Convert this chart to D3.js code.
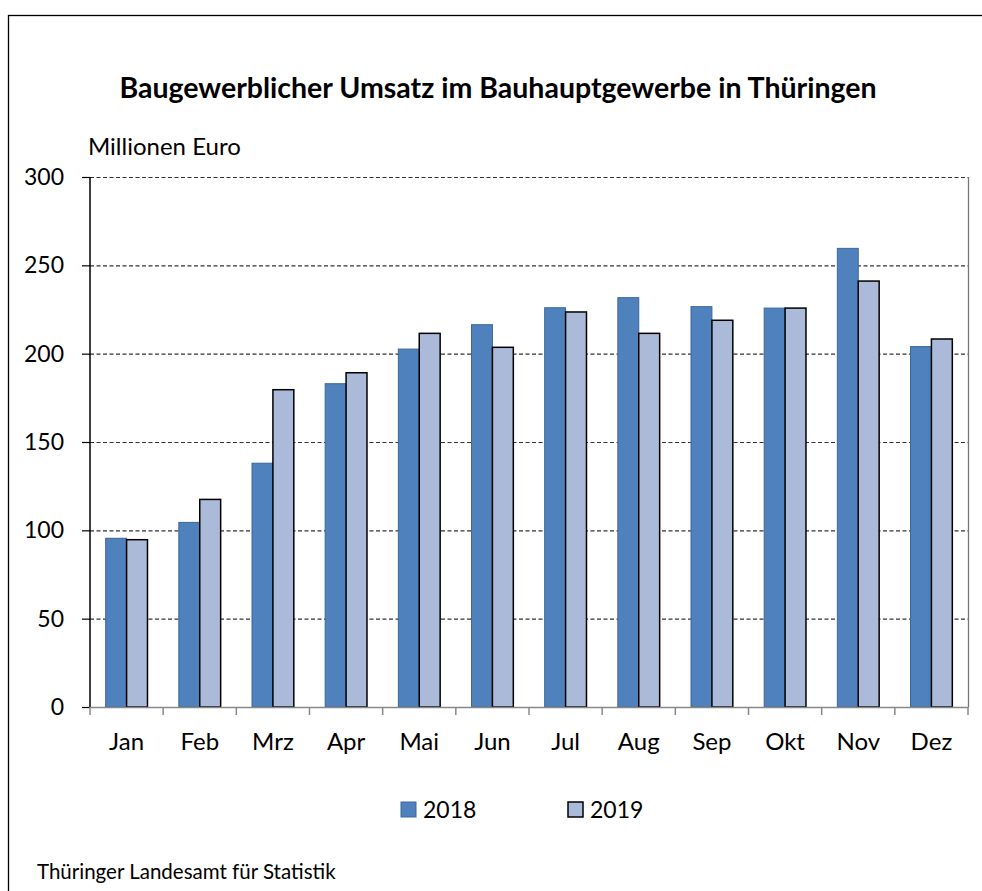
<!DOCTYPE html>
<html>
<head>
<meta charset="utf-8">
<script src="https://cdn.jsdelivr.net/npm/d3@7"></script>
<style>
  body { margin: 0; background: #fff; }
  svg text { font-family: Lato, "Open Sans", sans-serif; fill: #000; }
</style>
</head>
<body>
<svg id="chart" width="982" height="891"></svg>
<script>
const months = ["Jan", "Feb", "Mrz", "Apr", "Mai", "Jun", "Jul", "Aug", "Sep", "Okt", "Nov", "Dez"];
const years = ["2018", "2019"];
const umsatz2018 = [95.5, 104.5, 138, 183, 202.6, 216.4, 226, 231.7, 226.6, 225.8, 259.6, 204];
const umsatz2019 = [94.7, 117.5, 179.6, 189.2, 211.5, 203.6, 223.6, 211.5, 218.9, 225.8, 241.1, 208.3];
const yTicks = [0, 50, 100, 150, 200, 250, 300];

const svg = d3.select("#chart");

// outer frame
svg.append("rect")
    .attr("x", 8.5).attr("y", 15.5)
    .attr("width", 1000).attr("height", 1000)
    .attr("fill", "none").attr("stroke", "#000").attr("stroke-width", 1.3);

const plotLeft = 90, plotRight = 968, plotTop = 177, plotBottom = 707;

const x = d3.scaleBand().domain(months).range([plotLeft, plotRight]).paddingInner(0).paddingOuter(0);
const y = d3.scaleLinear().domain([0, 300]).range([plotBottom, plotTop]);
// two bars per month, 150% gap between groups
const bw = x.bandwidth() / 3.5;

svg.append("text")
    .attr("x", 498).attr("y", 98)
    .attr("text-anchor", "middle")
    .style("font-size", "28.5px").style("font-weight", "bold")
    .text("Baugewerblicher Umsatz im Bauhauptgewerbe in Thüringen");

svg.append("text")
    .attr("x", 88).attr("y", 155)
    .style("font-size", "24px")
    .text("Millionen Euro");

// grid lines
svg.append("g")
    .selectAll("line")
    .data(yTicks.filter(d => d > 0))
    .join("line")
    .attr("x1", plotLeft).attr("x2", plotRight)
    .attr("y1", d => y(d) + 0.5).attr("y2", d => y(d) + 0.5)
    .attr("stroke", "#333").attr("stroke-width", 1.2)
    .attr("stroke-dasharray", "4,2.5");

// right border of plot area
svg.append("line")
    .attr("x1", plotRight + 0.5).attr("x2", plotRight + 0.5)
    .attr("y1", plotTop).attr("y2", plotBottom)
    .attr("stroke", "#777").attr("stroke-width", 1.3);

// bars
const groups = svg.append("g")
    .selectAll("g")
    .data(months)
    .join("g")
    .attr("transform", d => `translate(${x(d)},0)`);

groups.append("rect")
    .attr("x", bw * 0.75)
    .attr("y", (d, i) => y(umsatz2018[i]))
    .attr("width", bw)
    .attr("height", (d, i) => plotBottom - y(umsatz2018[i]))
    .attr("fill", "#4f81bd").attr("stroke", "#3a679c").attr("stroke-width", 1);

groups.append("rect")
    .attr("x", bw * 1.75)
    .attr("y", (d, i) => y(umsatz2019[i]))
    .attr("width", bw)
    .attr("height", (d, i) => plotBottom - y(umsatz2019[i]))
    .attr("fill", "#abbad8").attr("stroke", "#000").attr("stroke-width", 1.5);

// y axis
const yAxis = svg.append("g")
    .attr("transform", `translate(${plotLeft},0)`)
    .call(d3.axisLeft(y).tickValues(yTicks).tickSize(8).tickPadding(18));
yAxis.select(".domain").attr("stroke", "#000").attr("stroke-width", 1.5).attr("d", `M0,${plotTop}V${plotBottom}`);
yAxis.selectAll(".tick line").attr("stroke", "#000").attr("stroke-width", 1.2);
yAxis.selectAll(".tick text").style("font-size", "23px").style("font-family", "Lato, sans-serif").attr("fill", "#000");

// x axis
const xAxis = svg.append("g")
    .attr("transform", `translate(0,${plotBottom})`)
    .call(d3.axisBottom(x).tickSize(0).tickPadding(26));
xAxis.select(".domain").attr("stroke", "#888").attr("stroke-width", 1.5);
xAxis.selectAll(".tick text").style("font-size", "24px").style("font-family", "Lato, sans-serif").attr("fill", "#000");
xAxis.append("g")
    .selectAll("line")
    .data(months.concat(["end"]))
    .join("line")
    .attr("x1", d => d === "end" ? plotRight : x(d))
    .attr("x2", d => d === "end" ? plotRight : x(d))
    .attr("y1", 0).attr("y2", 8)
    .attr("stroke", "#888").attr("stroke-width", 1.5);

// legend
const legendX = [401, 568];
const legendFill = ["#4f81bd", "#abbad8"];
const legendStroke = ["#3a679c", "#000"];
const legend = svg.append("g")
    .selectAll("g")
    .data(years)
    .join("g")
    .attr("transform", (d, i) => `translate(${legendX[i]},802)`);
legend.append("rect")
    .attr("width", 15).attr("height", 15)
    .attr("fill", (d, i) => legendFill[i])
    .attr("stroke", (d, i) => legendStroke[i]).attr("stroke-width", (d, i) => i ? 1.5 : 1);
legend.append("text")
    .attr("x", 22).attr("y", 16)
    .style("font-size", "23px")
    .text(d => d);

svg.append("text")
    .attr("x", 37).attr("y", 879)
    .style("font-size", "20.5px")
    .text("Thüringer Landesamt für Statistik");
</script>
</body>
</html>
